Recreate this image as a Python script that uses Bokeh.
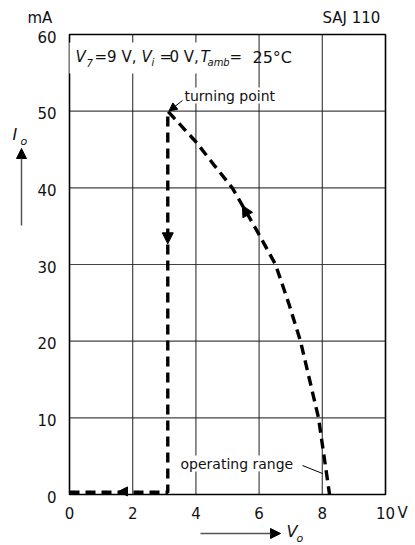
from bokeh.plotting import figure
from bokeh.models import Label, Arrow, NormalHead, Range1d, BoxAnnotation
from bokeh.core.properties import value
from bokeh.embed import file_html
from bokeh.resources import INLINE

# ---- data ----
x_ticks = [0, 2, 4, 6, 8, 10]
y_ticks = [0, 10, 20, 30, 40, 50, 60]
x_tick_labels = ["0", "2", "4", "6", "8", "10"]
y_tick_labels = ["0", "10", "20", "30", "40", "50", "60"]
# return path (bottom) and drop at turning point
low_v = [0.0, 3.11, 3.11]
low_i = [0.3, 0.3, 50.0]
# operating curve from turning point down to operating range
curve_v = [3.11, 4.0, 4.57, 5.15, 5.6, 6.0, 6.52, 6.94, 7.31, 7.88, 8.23]
curve_i = [50.0, 46.0, 43.0, 40.0, 36.8, 33.9, 30.0, 24.9, 20.0, 10.0, 0.0]

FONT = "DejaVu Sans"
INK = "#111111"

# ---- layout (pixels) ----
W, H = 410, 545
LEFT, RIGHT, TOP, BOTTOM = 69, 385, 34, 494   # where the chart box sits
x0, x1 = min(x_ticks), max(x_ticks)
y0, y1 = min(y_ticks), max(y_ticks)
kx = (RIGHT - LEFT) / (x1 - x0)
ky = (BOTTOM - TOP) / (y1 - y0)
xr = Range1d(x0 - LEFT / kx, x0 + (W - LEFT) / kx)
yr = Range1d(y1 - (H - TOP) / ky, y1 + TOP / ky)


def X(px):
    return x0 + (px - LEFT) / kx


def Y(py):
    return y0 + (BOTTOM - py) / ky


p = figure(width=W, height=H, output_backend="svg", toolbar_location=None,
           x_range=xr, y_range=yr, min_border=0)
p.title.visible = False
p.axis.visible = False
p.grid.visible = False
p.outline_line_color = None
p.background_fill_color = "white"
p.border_fill_color = "white"

# grid
p.segment(x0=x_ticks, y0=[y0] * len(x_ticks), x1=x_ticks, y1=[y1] * len(x_ticks),
          line_color="#222222", line_width=1.2, line_alpha=0.85)
p.segment(x0=[x0] * len(y_ticks), y0=y_ticks, x1=[x1] * len(y_ticks), y1=y_ticks,
          line_color="#222222", line_width=1.2, line_alpha=0.85)
p.quad(left=[x0], right=[x1], bottom=[y0], top=[y1], fill_alpha=0,
       line_color="black", line_width=1.5)

# tick labels
p.text(x=x_ticks, y=[Y(512.5)] * len(x_ticks), text=x_tick_labels,
       text_font=value(FONT), text_font_size="15px", text_color=INK,
       text_align="center", text_baseline="middle")
p.text(x=[X(56)] * len(y_ticks), y=y_ticks, text=y_tick_labels,
       text_font=value(FONT), text_font_size="15px", text_color=INK,
       text_align="right", text_baseline="middle", y_offset=2)

# white panel behind the condition text
p.add_layout(BoxAnnotation(left=X(69), right=X(250), bottom=Y(73), top=Y(42),
                           fill_color="white", fill_alpha=1.0, line_color=None))

# path (single dashed line)
p.line(low_v + curve_v[1:], low_i + curve_i[1:], line_color="black", line_width=3.4,
       line_dash="10 6")


# direction arrows on path
def head(xa, ya, xb, yb, size=11):
    p.add_layout(Arrow(end=NormalHead(size=size, fill_color="black", line_color="black"),
                       x_start=xa, y_start=ya, x_end=xb, y_end=yb, line_alpha=0))


head(3.11, 34.5, 3.11, 32.7)
head(5.62, 36.6, 5.47, 37.7)
head(1.9, 0.4, 1.55, 0.4, size=9)


def lab(px, py, text, size="14px", italic=False, bg=None):
    l = Label(x=X(px), y=Y(py), text=text, text_font=FONT, text_font_size=size,
              text_baseline="middle", text_align="left", text_color=INK,
              text_font_style="italic" if italic else "normal")
    if bg:
        l.background_fill_color = bg
    p.add_layout(l)


# conditions
lab(75, 56.5, "V", "15px", italic=True)
lab(86, 62, "7", "10px", italic=True)
lab(94, 56.5, "=9 V,", "15px")
lab(141, 56.5, "V", "15px", italic=True)
lab(151, 62, "i", "10px", italic=True)
lab(159, 56.5, "=", "15px")
lab(169, 56.5, "0 V,", "15px")
lab(200, 56.5, "T", "15px", italic=True)
lab(207, 62, "amb", "10px", italic=True)
lab(229, 56.5, "=", "15px")
lab(252, 56.5, "25°C", "16px")

# annotations
lab(184, 95, "turning point", "14px", bg="white")
p.add_layout(Arrow(end=NormalHead(size=8, fill_color="black", line_color="black"),
                   x_start=X(182), y_start=Y(100), x_end=X(168.5), y_end=Y(110.5),
                   line_color="black", line_width=1))
lab(180, 463, "operating range", "14px", bg="white")
p.line([X(302), X(322)], [Y(465), Y(473)], line_color="black", line_width=1)

# texts around the box
lab(27, 17, "mA", "15px")
lab(322, 17, "SAJ 110", "15px")
lab(397, 512.5, "V", "15px")
lab(12, 134, "I", "16px", italic=True)
lab(20, 141, "o", "11px", italic=True)
lab(286, 531, "V", "16px", italic=True)
lab(296, 537.5, "o", "11px", italic=True)
p.add_layout(Arrow(end=NormalHead(size=10, fill_color="black", line_color="black"),
                   x_start=X(21), y_start=Y(225), x_end=X(21), y_end=Y(148),
                   line_color="#555555", line_width=1.5))
p.add_layout(Arrow(end=NormalHead(size=10, fill_color="black", line_color="black"),
                   x_start=X(200), y_start=Y(533), x_end=X(280), y_end=Y(533),
                   line_color="#555555", line_width=1.5))

open("out.html", "w").write(file_html(p, INLINE))
